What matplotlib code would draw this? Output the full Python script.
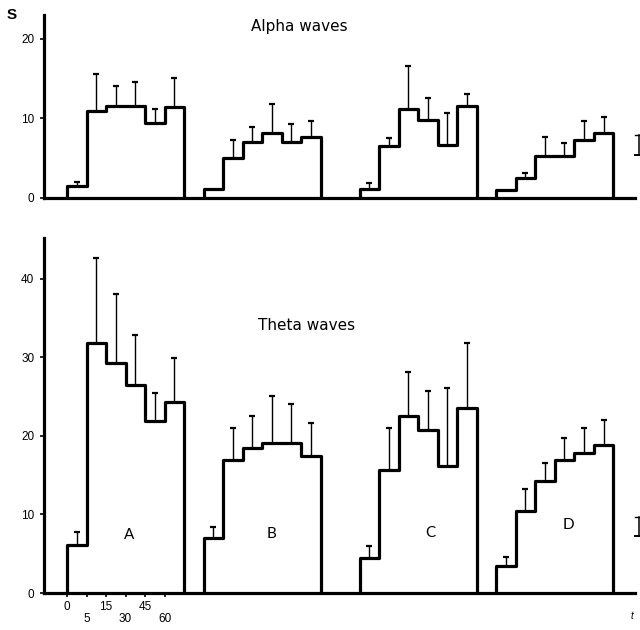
import numpy as np
import matplotlib
matplotlib.use("Agg")
import matplotlib.pyplot as plt

plt.rcParams['font.family'] = ['Liberation Sans', 'DejaVu Sans']

# ---- data ----
group_names = ["A", "B", "C", "D"]
group_starts = [0, 7, 15, 22]          # bin index where each group starts
time_labels = ["0", "5", "15", "30", "45", "60"]

alpha_A = [1.5, 10.9, 11.6, 11.6, 9.4, 11.4]
alpha_A_err = [2.0, 15.6, 14.1, 14.5, 11.1, 15.0]
alpha_B = [1.1, 5.0, 7.0, 8.2, 7.0, 7.7]
alpha_B_err = [np.nan, 7.3, 8.9, 11.8, 9.3, 9.7]
alpha_C = [1.1, 6.5, 11.1, 9.8, 6.7, 11.6]
alpha_C_err = [1.8, 7.5, 16.6, 12.6, 10.7, 13.1]
alpha_D = [1.0, 2.5, 5.3, 5.3, 7.3, 8.2]
alpha_D_err = [np.nan, 3.1, 7.7, 6.9, 9.6, 10.2]

theta_A = [6.1, 31.8, 29.3, 26.5, 21.9, 24.3]
theta_A_err = [7.8, 42.7, 38.1, 32.9, 25.5, 29.9]
theta_B = [7.0, 16.9, 18.5, 19.1, 19.1, 17.5]
theta_B_err = [8.4, 21.0, 22.5, 25.1, 24.1, 21.7]
theta_C = [4.5, 15.7, 22.5, 20.8, 16.2, 23.6]
theta_C_err = [6.0, 21.0, 28.1, 25.7, 26.1, 31.8]
theta_D = [3.5, 10.5, 14.2, 16.9, 17.8, 18.9]
theta_D_err = [4.6, 13.3, 16.6, 19.7, 21.0, 22.0]

alpha_vals = [alpha_A, alpha_B, alpha_C, alpha_D]
alpha_errs = [alpha_A_err, alpha_B_err, alpha_C_err, alpha_D_err]
theta_vals = [theta_A, theta_B, theta_C, theta_D]
theta_errs = [theta_A_err, theta_B_err, theta_C_err, theta_D_err]

alpha_yticks = [0, 10, 20]
theta_yticks = [0, 10, 20, 30, 40]

fig = plt.figure(figsize=(6.4, 6.3), dpi=100)
ax1 = fig.add_axes([0.06875, 0.686, 0.923, 0.2905])
ax2 = fig.add_axes([0.06875, 0.0587, 0.923, 0.5635])


def draw_panel(ax, vals_list, errs_list, ymax):
    for start, vals, errs in zip(group_starts, vals_list, errs_list):
        edges = np.arange(start, start + len(vals) + 1)
        centers = edges[:-1] + 0.5
        vals = np.asarray(vals, float)
        errs = np.asarray(errs, float)
        ok = ~np.isnan(errs)
        ax.vlines(centers[ok], vals[ok], errs[ok], color='black', lw=1.0)
        ax.plot(centers[ok], errs[ok], ls='none', marker='_', ms=4, mew=1.6,
                color='black')
        sp = ax.stairs(vals, edges, baseline=0, color='black', lw=2.3)
        sp.set_joinstyle('round')
    ax.set_xlim(-1.18, 29.1)
    ax.set_ylim(0, ymax)
    for s in ['top', 'right']:
        ax.spines[s].set_visible(False)
    for s in ['left', 'bottom']:
        ax.spines[s].set_linewidth(2.3)
    ax.tick_params(axis='y', direction='out', length=3, width=1.2, pad=4,
                   labelsize=8.5)


draw_panel(ax1, alpha_vals, alpha_errs, 23)
draw_panel(ax2, theta_vals, theta_errs, 45.2)

ax1.set_yticks(alpha_yticks)
ax1.set_xticks([])
ax2.set_yticks(theta_yticks)

tick_pos = list(range(len(time_labels)))
tick_lab = [lab if i % 2 == 0 else "\n" + lab for i, lab in enumerate(time_labels)]
ax2.set_xticks(tick_pos)
ax2.set_xticklabels(tick_lab)
ax2.tick_params(axis='x', direction='out', length=3, width=1.2, pad=3,
                labelsize=8.5)
for lab in ax2.get_xticklabels():
    lab.set_linespacing(1.0)

# titles
ax1.text(11.9, 21.5, "Alpha waves", fontsize=11, ha='center', va='center',
         family=['DejaVu Sans'])
ax2.text(12.3, 34.1, "Theta waves", fontsize=11, ha='center', va='center',
         family=['DejaVu Sans'])

# group letters
letter_pos_x = [3.2, 10.5, 18.6, 25.7]
letter_pos_y = [7.4, 7.5, 7.7, 8.6]
for name, lx, ly in zip(group_names, letter_pos_x, letter_pos_y):
    ax2.text(lx, ly, name, fontsize=11, ha='center', va='center',
             family=['Lato', 'DejaVu Sans'])

# axis labels
fig.text(12 / 640, 1 - 15 / 630, "S", fontsize=11, ha='center', va='center',
         fontweight='bold')
fig.text(632 / 640, 1 - 616 / 630, "t", fontsize=7, ha='center', va='center',
         style='italic')

# scale marks at the right edge (cut off by the figure border)
for ax, (y0, y1) in [(ax1, (5.4, 7.9)), (ax2, (7.2, 9.7))]:
    ax.plot([29.3, 29.3], [y0, y1], color='black', lw=1.1, clip_on=False)
    ax.plot([29.12, 29.48], [y1, y1], color='black', lw=1.0, clip_on=False)
    ax.plot([29.12, 29.48], [y0, y0], color='black', lw=1.4, clip_on=False)

fig.savefig("out.png", dpi=100)
